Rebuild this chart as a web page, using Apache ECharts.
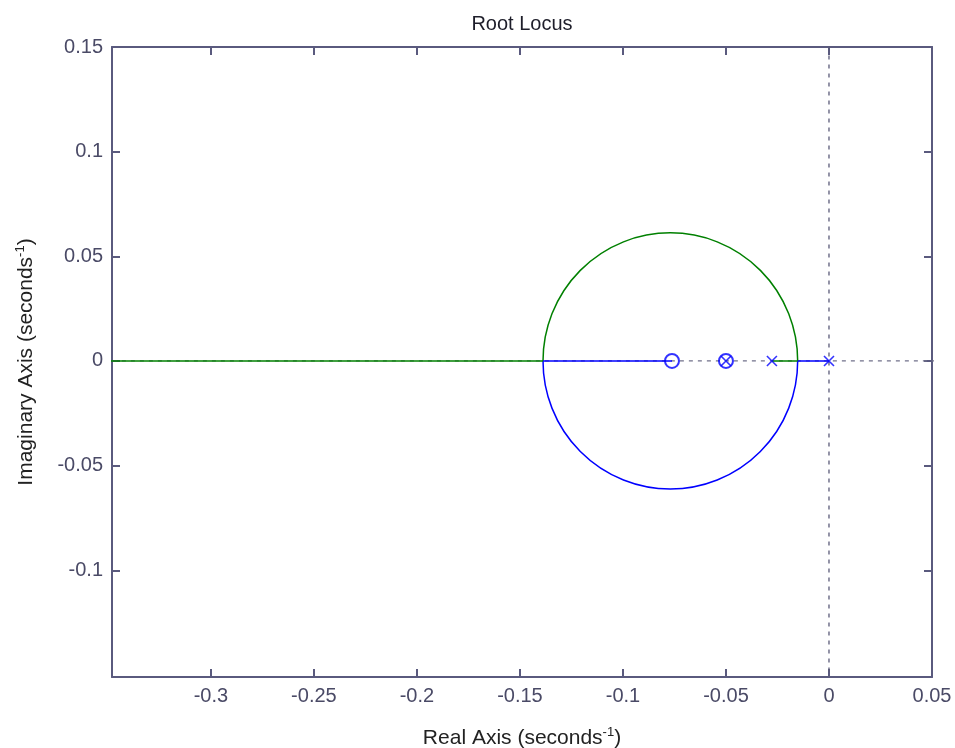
<!DOCTYPE html>
<html>
<head>
<meta charset="utf-8">
<style>html,body{margin:0;padding:0;background:#fff;}#c{width:955px;height:748px;}</style>
<script src="https://cdn.jsdelivr.net/npm/echarts@6/dist/echarts.min.js"></script>
</head>
<body>
<div id="c"></div>
<script>
// ---- data ----
const xTicks = [-0.3, -0.25, -0.2, -0.15, -0.1, -0.05, 0, 0.05];
const yTicks = [-0.1, -0.05, 0, 0.05, 0.1, 0.15];
const xRange = [-0.348, 0.05];
const yRange = [-0.151, 0.15];
const poles = [[0, 0], [-0.0277, 0], [-0.05, 0]];
const zeros = [[-0.0762, 0], [-0.05, 0]];
const greenReal = [[-0.4, 0], [-0.1388, 0]];
const greenRealRight = [[-0.0277, 0], [-0.0152, 0]];
const blueReal = [[-0.1388, 0], [-0.0762, 0]];
const blueRealRight = [[-0.0152, 0], [0, 0]];
// circle branch: [left end, right end, half height, side (1 upper / -1 lower)]
const greenArc = [[-0.1388, -0.0152, 0.0612, 1]];
const blueArc = [[-0.1388, -0.0152, 0.0612, -1]];
const zeroAxisH = [[-0.4, 0], [0.06, 0]];
const zeroAxisV = [[0, -0.2], [0, 0.2]];

const GREEN = '#008000', BLUE = '#0000ff', FRAME = '#5a5a7e', LABEL = '#4a4a66';
const FONT = 'Liberation Sans, Arial, sans-serif';

function arcRender(color) {
  return function (params, api) {
    const l = api.coord([api.value(0), 0]);
    const r = api.coord([api.value(1), 0]);
    const side = api.value(3);
    const rx = (r[0] - l[0]) / 2;
    const ry = api.size([0, api.value(2)])[1];
    const sweep = side > 0 ? 0 : 1;
    const d = 'M' + r[0] + ' ' + r[1] + ' A' + rx + ' ' + ry + ' 0 0 ' + sweep + ' ' + l[0] + ' ' + l[1];
    return {
      type: 'path',
      shape: { pathData: d },
      style: { fill: null, stroke: color, lineWidth: 1.5 }
    };
  };
}

const xCross = 'path://M0,0L10,10M10,0L0,10';

function axisCommon(showLabel, isX) {
  return {
    axisLine: { show: true, onZero: false, lineStyle: { color: FRAME, width: 2 } },
    axisTick: { show: true, inside: true, length: 8, customValues: isX ? xTicks : yTicks, lineStyle: { color: FRAME, width: 2 } },
    axisLabel: {
      show: showLabel, customValues: isX ? xTicks : yTicks,
      color: LABEL, fontSize: 20, fontFamily: FONT, margin: 9,
      formatter: v => String(v)
    },
    splitLine: { show: false }
  };
}

const nameRich = {
  a: { fontSize: 21, color: '#222', fontFamily: FONT },
  s: { fontSize: 13, color: '#222', fontFamily: FONT, padding: [0, 0, 11, 0] }
};

const chart = echarts.init(document.getElementById('c'));
chart.setOption({
  animation: false,
  backgroundColor: '#fff',
  title: {
    text: 'Root Locus', left: 517, top: 9, textAlign: 'center',
    textStyle: { fontSize: 20, fontWeight: 'normal', color: '#1e1e2a', fontFamily: FONT }
  },
  grid: { left: 112, right: 23, top: 47, bottom: 71, containLabel: false, outerBoundsMode: 'none' },
  xAxis: [
    Object.assign({
      type: 'value', min: xRange[0], max: xRange[1], position: 'bottom',
      name: '{a|Real Axis (seconds}{s|-1}{a|)}', nameLocation: 'middle', nameGap: 49,
      nameTextStyle: { rich: nameRich }
    }, axisCommon(true, true)),
    Object.assign({ type: 'value', min: xRange[0], max: xRange[1], position: 'top' }, axisCommon(false, true))
  ],
  yAxis: [
    Object.assign({
      type: 'value', min: yRange[0], max: yRange[1], position: 'left',
      name: '{a|Imaginary Axis (seconds}{s|-1}{a|)}', nameLocation: 'middle', nameGap: 74, nameRotate: 90,
      nameTextStyle: { rich: nameRich }
    }, axisCommon(true, false)),
    Object.assign({ type: 'value', min: yRange[0], max: yRange[1], position: 'right' }, axisCommon(false, false))
  ],
  series: [
    { type: 'line', data: zeroAxisH, showSymbol: false, silent: true, z: 1,
      lineStyle: { color: '#70708a', width: 1.3, type: [4, 5] } },
    { type: 'line', data: zeroAxisV, showSymbol: false, silent: true, z: 1,
      lineStyle: { color: '#5a5a78', width: 1.3, type: [4, 5] } },
    { type: 'line', data: greenReal, showSymbol: false, z: 3, lineStyle: { color: GREEN, width: 1.6 } },
    { type: 'line', data: greenRealRight, showSymbol: false, z: 3, lineStyle: { color: GREEN, width: 1.6 } },
    { type: 'line', data: blueReal, showSymbol: false, z: 3, lineStyle: { color: BLUE, width: 1.6 } },
    { type: 'line', data: blueRealRight, showSymbol: false, z: 3, lineStyle: { color: BLUE, width: 1.6 } },
    { type: 'custom', data: greenArc, renderItem: arcRender(GREEN), encode: { x: [0, 1], y: 2 }, clip: true, z: 3 },
    { type: 'custom', data: blueArc, renderItem: arcRender(BLUE), encode: { x: [0, 1], y: 2 }, clip: true, z: 3 },
    { type: 'scatter', data: zeros, symbol: 'circle', symbolSize: 14, z: 5,
      itemStyle: { color: 'rgba(0,0,0,0)', borderColor: BLUE, borderWidth: 2 } },
    { type: 'scatter', data: poles, symbol: xCross, symbolSize: 10, z: 5,
      itemStyle: { color: 'rgba(0,0,0,0)', borderColor: BLUE, borderWidth: 1.6 } }
  ]
});
</script>
</body>
</html>
